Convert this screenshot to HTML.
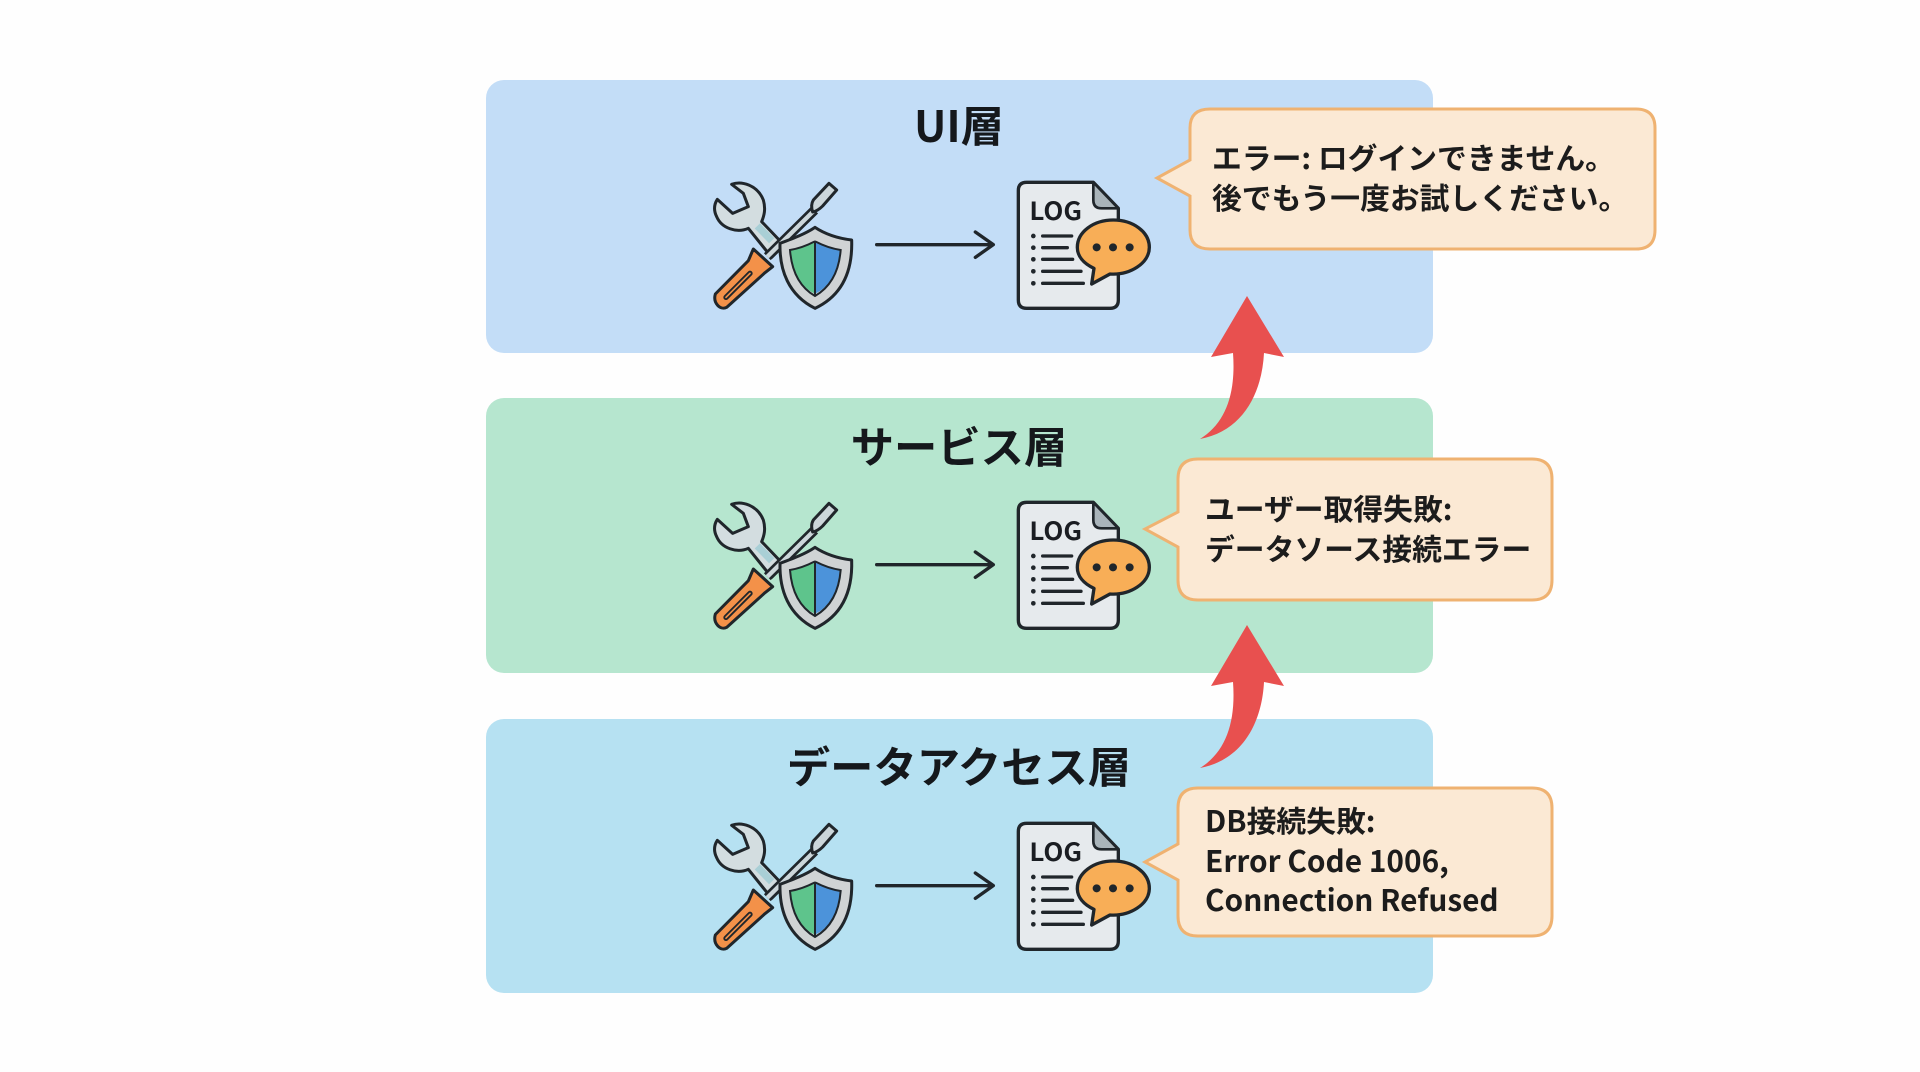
<!DOCTYPE html>
<html lang="ja"><head><meta charset="utf-8"><title>Layers</title>
<style>
html,body{margin:0;padding:0;background:#fefefe}
svg{display:block}
.t{font-family:"Noto Sans CJK JP","Liberation Sans",sans-serif;font-weight:700;font-size:43.3px;fill:#15181c;text-anchor:middle}
.c{font-family:"Noto Sans CJK JP","Liberation Sans",sans-serif;font-weight:700;font-size:29.8px;fill:#1c1c1c}
.l{font-family:"Noto Sans CJK JP","Liberation Sans",sans-serif;font-weight:700;font-size:75px;fill:#1a1d22}
</style></head><body>
<svg width="1920" height="1072" viewBox="0 0 1920 1072" xmlns="http://www.w3.org/2000/svg">
<defs>
<g id="ic">
  <path d="M155,103 C185,92 232,105 250,150 C258,178 252,198 245,215 L312,285 L275,322 L205,235 C170,250 125,235 110,200 C100,180 103,162 112,148 L158,190 L205,170 L190,130 Z" fill="#d3dde0" stroke="#20262b" stroke-width="9" stroke-linejoin="round"/>
  <path d="M232,228 L275,272" stroke="#a9cfd6" stroke-width="22" fill="none"/>
  <path d="M262,320 L404,180" stroke="#20262b" stroke-width="29" fill="none"/>
  <path d="M262,320 L404,180" stroke="#ccd6da" stroke-width="13" fill="none"/>
  <path d="M400,150 L447,100 L470,120 L428,168 C418,178 408,184 398,186 C394,174 394,160 400,150 Z" fill="#ccd6da" stroke="#20262b" stroke-width="9" stroke-linejoin="round"/>
  <path d="M220,297 L278,350 L255,368 L140,472 C122,482 98,460 106,432 L205,332 Z" fill="#f39149" stroke="#20262b" stroke-width="9" stroke-linejoin="round"/>
  <path d="M138,442 L210,370" stroke="#20262b" stroke-width="16" stroke-linecap="round" fill="none"/>
  <path d="M138,442 L210,370" stroke="#f39149" stroke-width="5" stroke-linecap="round" fill="none"/>
  <path d="M405,232 C435,252 475,265 515,270 C518,360 490,435 405,475 C325,435 298,360 300,280 C340,265 375,252 405,232 Z" fill="#d0d3d4" stroke="#20262b" stroke-width="9" stroke-linejoin="round"/>
  <path d="M403,275 L403,430 C360,410 335,365 332,300 C358,295 382,285 403,275 Z" fill="#5ec48c"/>
  <path d="M407,275 L407,430 C450,410 477,365 480,300 C455,295 430,285 407,275 Z" fill="#4c93da"/>
  <path d="M405,272 L405,440 M403,275 C380,287 355,296 330,300 C335,365 360,412 405,438 C450,412 477,365 482,300 C455,296 430,287 407,275" stroke="#20262b" stroke-width="6" fill="none"/>
  <path d="M1040,97 L1240,97 L1315,175 L1315,450 Q1315,475 1290,475 L1040,475 Q1015,475 1015,450 L1015,122 Q1015,97 1040,97 Z" fill="#e6eaed" stroke="#20262b" stroke-width="10" stroke-linejoin="round"/>
  <path d="M1240,97 L1240,150 Q1240,175 1265,175 L1315,175 Z" fill="#a9b4ba" stroke="#20262b" stroke-width="8" stroke-linejoin="round"/>
  <g fill="#20262b"><circle cx="1060" cy="258" r="7"/><circle cx="1060" cy="293" r="7"/><circle cx="1060" cy="328" r="7"/><circle cx="1060" cy="364" r="7"/><circle cx="1060" cy="400" r="7"/></g>
  <path d="M1088,258H1175M1088,293H1162M1088,328H1178M1088,364H1203M1088,400H1210" stroke="#20262b" stroke-width="10" stroke-linecap="round" fill="none"/>
  <path d="M1300,210 C1360,210 1408,246 1408,292 C1408,340 1350,376 1290,372 L1235,402 L1242,355 C1210,340 1192,318 1192,292 C1192,246 1240,210 1300,210 Z" fill="#f8ae57" stroke="#20262b" stroke-width="10" stroke-linejoin="round"/>
  <g fill="#20262b"><circle cx="1250" cy="292" r="12"/><circle cx="1299" cy="292" r="12"/><circle cx="1349" cy="292" r="12"/></g>
  <path d="M590,284 H938 M886,246 L940,284 L886,322" stroke="#20262b" stroke-width="10" stroke-linecap="round" stroke-linejoin="round" fill="none"/>
</g>
<path id="ra" d="M1247,625 L1284,686 L1264,682 C1262,722 1243,760 1200,768 C1226,752 1236,722 1233,682 L1211,686 Z" fill="#e8504f"/>
</defs>
<rect width="1920" height="1072" fill="#fefefe"/>
<rect x="486" y="80" width="947" height="273" rx="18" fill="#c3ddf7"/>
<rect x="486" y="398" width="947" height="275" rx="18" fill="#b6e6cf"/>
<rect x="486" y="719" width="947" height="274" rx="18" fill="#b6e1f2"/>

<text class="t" x="959" y="142">UI層</text>
<text class="t" x="959" y="463">サービス層</text>
<text class="t" x="959" y="783">データアクセス層</text>

<g transform="translate(680,150) scale(.33333)"><use href="#ic"/><text class="l" x="1048" y="210" textLength="158" lengthAdjust="spacingAndGlyphs">LOG</text></g>
<g transform="translate(680,470) scale(.33333)"><use href="#ic"/><text class="l" x="1048" y="210" textLength="158" lengthAdjust="spacingAndGlyphs">LOG</text></g>
<g transform="translate(680,791) scale(.33333)"><use href="#ic"/><text class="l" x="1048" y="210" textLength="158" lengthAdjust="spacingAndGlyphs">LOG</text></g>

<use href="#ra" transform="translate(0,-329)"/>
<use href="#ra"/>

<path d="M1210,109 H1636 Q1655,109 1655,128 V230 Q1655,249 1636,249 H1210 Q1190,249 1190,230 V196 L1157,178 L1190,160 V128 Q1190,109 1210,109 Z" fill="#fbe9d4" stroke="#efb271" stroke-width="3"/>
<path d="M1198,459 H1532 Q1552,459 1552,479 V580 Q1552,600 1532,600 H1198 Q1178,600 1178,580 V547 L1145,529 L1178,512 V479 Q1178,459 1198,459 Z" fill="#fbe9d4" stroke="#efb271" stroke-width="3"/>
<path d="M1198,788 H1532 Q1552,788 1552,808 V916 Q1552,936 1532,936 H1198 Q1178,936 1178,916 V880 L1145,862 L1178,844 V808 Q1178,788 1198,788 Z" fill="#fbe9d4" stroke="#efb271" stroke-width="3"/>

<text class="c" x="1212" y="169">エラー: ログインできません。</text>
<text class="c" x="1212" y="209">後でもう一度お試しください。</text>
<text class="c" x="1205" y="520">ユーザー取得失敗:</text>
<text class="c" x="1205" y="560">データソース接続エラー</text>
<text class="c" x="1205" y="832">DB接続失敗:</text>
<text class="c" x="1205" y="872">Error Code 1006,</text>
<text class="c" x="1205" y="911">Connection Refused</text>
</svg>
</body></html>
